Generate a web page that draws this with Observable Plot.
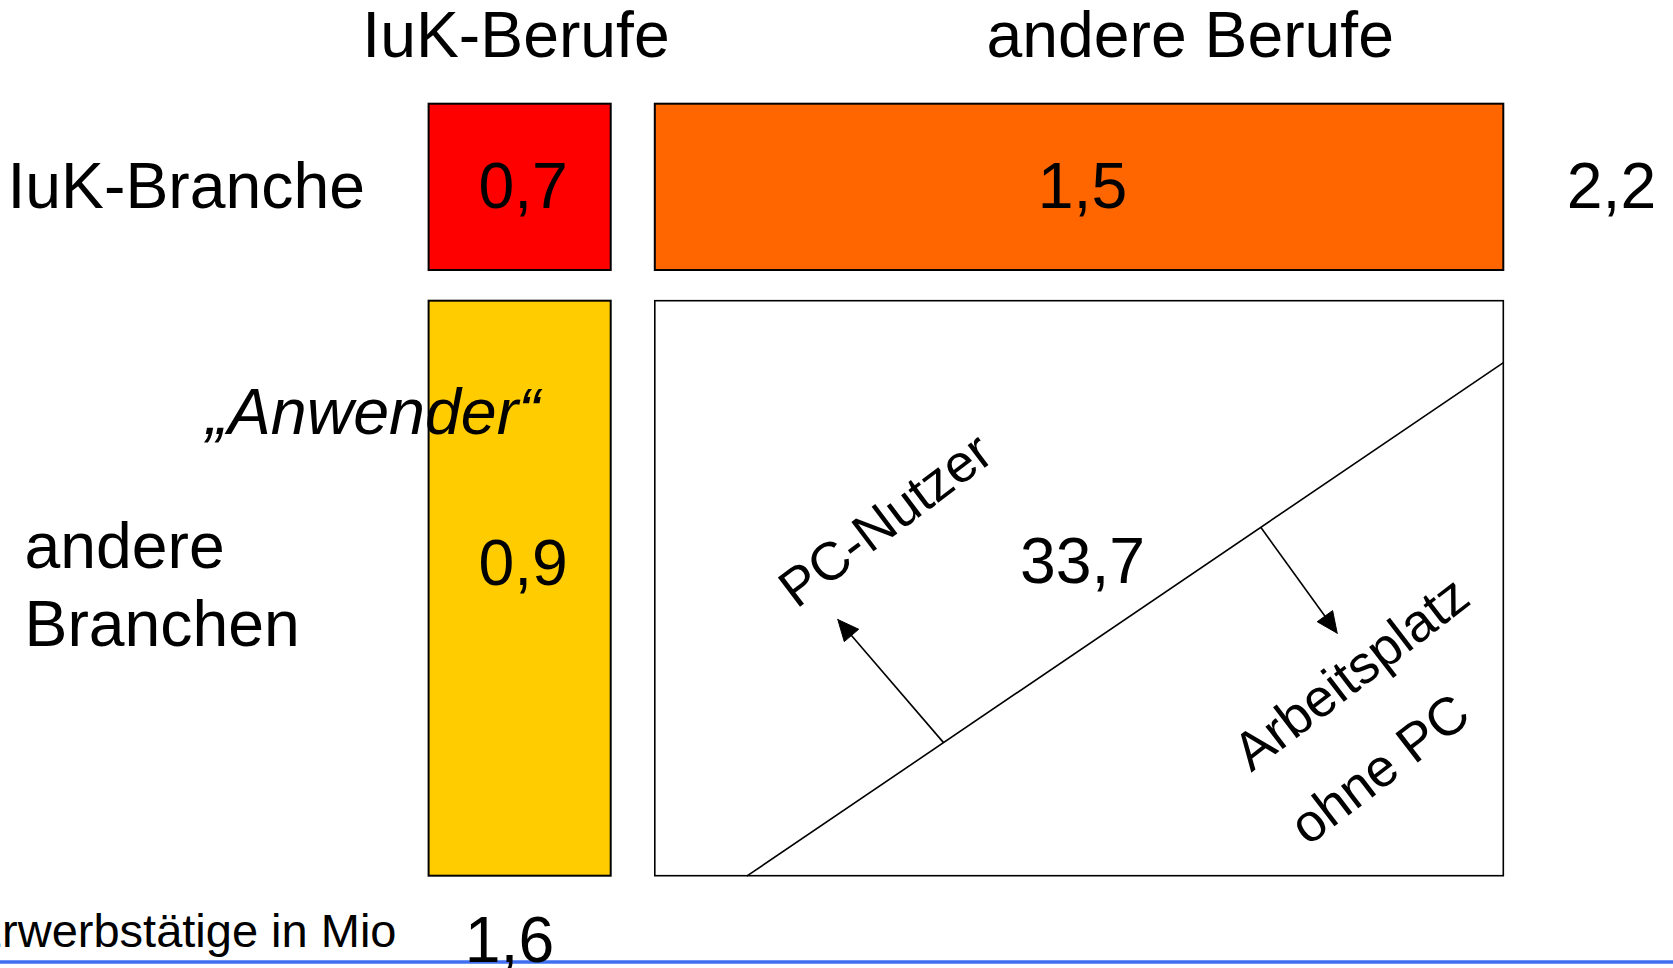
<!DOCTYPE html>
<html lang="de">
<head>
<meta charset="utf-8">
<script src="https://cdn.jsdelivr.net/npm/d3@7"></script>
<script src="https://cdn.jsdelivr.net/npm/@observablehq/plot@0.6"></script>
<style>
  html, body { margin: 0; padding: 0; background: #ffffff; }
  #chart svg { display: block; }
</style>
</head>
<body>
<div id="chart"></div>
<script>
// ---------------- DATA ----------------
const rowLabels = ["IuK-Branche", "andere\nBranchen"];
const colLabels = ["IuK-Berufe", "andere Berufe"];
const cellRow = [0, 0, 1, 1];
const cellCol = [0, 1, 0, 1];
const cellValues = [0.7, 1.5, 0.9, 33.7];
const rowTotals = [2.2];          // Summe IuK-Branche
const colTotals = [1.6];          // Summe IuK-Berufe
const unitLabel = "Erwerbstätige in Mio";
const groupLabel = "„Anwender“";
const splitLabels = ["PC-Nutzer", "Arbeitsplatz\nohne PC"];

// ---------------- LAYOUT & STYLE (not data) ----------------
const W = 1673, H = 968;
const FONT = "Liberation Sans, Arial, Helvetica, sans-serif";
const BIG = 64.3;
const colX = [[428.6, 610.7], [654.8, 1503.3]];
const rowY = [[103.7, 270.0], [300.7, 875.7]];
const cellFill = ["#FF0000", "#FF6600", "#FFCC00", "#FFFFFF"];
const cellStrokeW = [2, 2, 2, 1.6];
const diag = {x1: 746.2, y1: 875.7, x2: 1503.3, y2: 361.9};
const onDiag = t => ({x: diag.x1 + t * (diag.x2 - diag.x1), y: diag.y1 + t * (diag.y2 - diag.y1)});
const arrowDefs = [
  {from: onDiag(0.26), to: {x: 837.3, y: 619.0}},
  {from: onDiag(0.679), to: {x: 1336.7, y: 632.7}}
];
const fmt = v => v.toFixed(1).replace(".", ",");

// ---------------- BUILD TABLES ----------------
const cells = cellValues.map((v, i) => {
  const [cx1, cx2] = colX[cellCol[i]];
  const [cy1, cy2] = rowY[cellRow[i]];
  return {value: v, x1: cx1, x2: cx2, y1: cy1, y2: cy2,
          fill: cellFill[i], sw: cellStrokeW[i],
          tx: (cx1 + cx2) / 2 + 3,
          ty: cellRow[i] === 0 ? 207 : (cellCol[i] === 0 ? 584 : 582.7)};
});

const headers = colLabels.map((c, i) => ({label: c, x: i === 0 ? 515.5 : 1189.7, y: 56}));
const rowHeads = rowLabels.map((r, i) => ({label: r, x: i === 0 ? 7 : 24, y: i === 0 ? 207 : 645}));

// arrowheads as filled triangles
const headLen = 21, headW = 19;
const tri = [];
const shafts = [];
arrowDefs.forEach((a, k) => {
  const dx = a.to.x - a.from.x, dy = a.to.y - a.from.y;
  const L = Math.hypot(dx, dy), ux = dx / L, uy = dy / L;
  const bx = a.to.x - headLen * ux, by = a.to.y - headLen * uy;
  const px = -uy, py = ux;
  shafts.push({x1: a.from.x, y1: a.from.y, x2: bx + 2 * ux, y2: by + 2 * uy});
  tri.push({id: k, x: a.to.x, y: a.to.y});
  tri.push({id: k, x: bx + px * headW / 2, y: by + py * headW / 2});
  tri.push({id: k, x: bx - px * headW / 2, y: by - py * headW / 2});
  tri.push({id: k, x: a.to.x, y: a.to.y});
});

// ---------------- PLOT ----------------
const chart = Plot.plot({
  width: W,
  height: H,
  margin: 0,
  x: {domain: [0, W], range: [0, W], axis: null},
  y: {domain: [0, H], range: [0, H], axis: null},
  color: {type: "identity"},
  style: {background: "#ffffff", fontFamily: FONT, color: "black"},
  marks: [
    // bottom blue rule
    Plot.ruleY([961.5], {stroke: "#3F6FF0", strokeWidth: 3.5}),
    // cells
    Plot.rect(cells, {x1: "x1", x2: "x2", y1: "y1", y2: "y2", fill: "fill", stroke: "black", strokeWidth: "sw"}),
    // diagonal split line
    Plot.link([diag], {x1: "x1", y1: "y1", x2: "x2", y2: "y2", stroke: "black", strokeWidth: 1.6}),
    // arrows
    Plot.link(shafts, {x1: "x1", y1: "y1", x2: "x2", y2: "y2", stroke: "black", strokeWidth: 1.6}),
    Plot.line(tri, {x: "x", y: "y", z: "id", fill: "black", stroke: "black", strokeWidth: 1}),
    // cell values
    Plot.text(cells, {x: "tx", y: "ty", text: d => fmt(d.value), fontSize: BIG, lineAnchor: "bottom", textAnchor: "middle", fill: "black", fontFamily: FONT}),
    // column headers
    Plot.text(headers, {x: "x", y: "y", text: "label", fontSize: BIG, lineAnchor: "bottom", textAnchor: "middle", fill: "black", fontFamily: FONT}),
    // row headers
    Plot.text(rowHeads, {x: "x", y: "y", text: "label", fontSize: BIG, lineAnchor: "bottom", textAnchor: "start", lineHeight: 1.2, fill: "black", fontFamily: FONT}),
    // totals
    Plot.text(rowTotals, {x: () => 1611, y: () => 207, text: d => fmt(d), fontSize: BIG, lineAnchor: "bottom", textAnchor: "middle", fill: "black", fontFamily: FONT}),
    Plot.text(colTotals, {x: () => 509, y: () => 961.7, text: d => fmt(d), fontSize: BIG, lineAnchor: "bottom", textAnchor: "middle", fill: "black", fontFamily: FONT}),
    // unit label
    Plot.text([unitLabel], {x: () => 396, y: () => 946.7, text: d => d, fontSize: 47, lineAnchor: "bottom", textAnchor: "end", fill: "black", fontFamily: FONT}),
    // "Anwender"
    Plot.text([groupLabel], {x: () => 372.5, y: () => 433, text: d => d, fontSize: 64.5, fontStyle: "italic", lineAnchor: "bottom", textAnchor: "middle", fill: "black", fontFamily: FONT}),
    // rotated annotations
    Plot.text([splitLabels[0]], {x: () => 796, y: () => 609, text: d => d, fontSize: 53.5, rotate: -37, lineAnchor: "bottom", textAnchor: "start", fill: "black", fontFamily: FONT}),
    Plot.text([splitLabels[1]], {x: () => 1307.5, y: () => 846.2, text: d => d, fontSize: 53.5, rotate: -37.5, lineAnchor: "bottom", textAnchor: "start", lineHeight: 1.74, fill: "black", fontFamily: FONT})
  ]
});
document.getElementById("chart").appendChild(chart);
</script>
</body>
</html>
